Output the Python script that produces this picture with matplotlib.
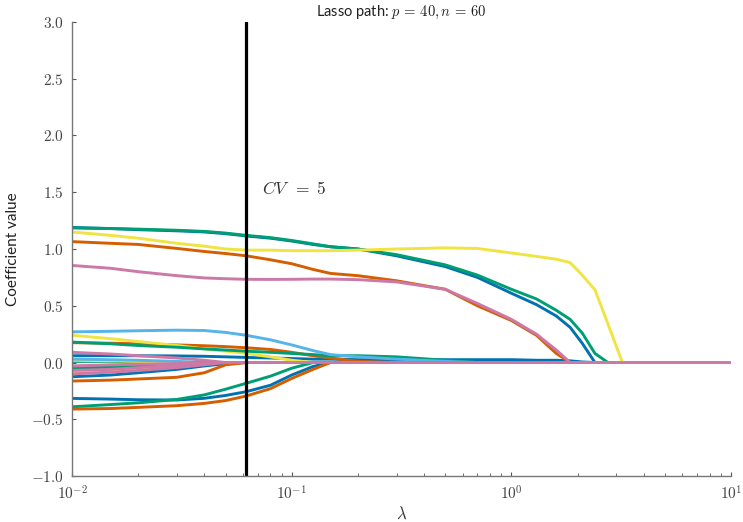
import math
import matplotlib
matplotlib.use("Agg")
import matplotlib.pyplot as plt
from matplotlib.ticker import FuncFormatter, LogLocator, FixedLocator

plt.rcParams['mathtext.fontset'] = 'cm'
plt.rcParams['font.family'] = ['Lato', 'DejaVu Sans']

# lambda grid shared by all coefficient paths
lambdas = [0.01, 0.015, 0.02, 0.03, 0.04, 0.05, 0.062, 0.08, 0.1, 0.125, 0.15, 0.2,
           0.3, 0.5, 0.7, 1.0, 1.3, 1.6, 1.85, 2.1, 2.4, 2.75, 3.2, 10.0]

cv_lambda = 0.062
cv_label = r'$CV\ \,=\ 5$'

# large coefficients
blue_big = [1.19, 1.18, 1.17, 1.16, 1.15, 1.135, 1.115, 1.095, 1.07, 1.04, 1.02, 1.0,
            0.94, 0.845, 0.75, 0.61, 0.51, 0.41, 0.31, 0.17, 0.0, 0.0, 0.0, 0.0]
green_big = [1.185, 1.18, 1.175, 1.165, 1.155, 1.14, 1.12, 1.10, 1.075, 1.045, 1.02, 1.0,
             0.95, 0.86, 0.77, 0.645, 0.56, 0.46, 0.38, 0.26, 0.08, 0.0, 0.0, 0.0]
orange_big = [1.065, 1.05, 1.04, 1.005, 0.978, 0.96, 0.94, 0.905, 0.87, 0.82, 0.785, 0.765,
              0.72, 0.645, 0.50, 0.37, 0.24, 0.08, 0.0, 0.0, 0.0, 0.0, 0.0, 0.0]
pink_big = [0.855, 0.83, 0.80, 0.765, 0.745, 0.738, 0.733, 0.732, 0.733, 0.735, 0.735, 0.73,
            0.71, 0.645, 0.52, 0.38, 0.25, 0.11, 0.0, 0.0, 0.0, 0.0, 0.0, 0.0]
yellow_big = [1.15, 1.12, 1.095, 1.05, 1.025, 1.0, 0.99, 0.99, 0.985, 0.985, 0.985, 0.99,
              1.0, 1.01, 1.005, 0.965, 0.935, 0.91, 0.88, 0.77, 0.64, 0.34, 0.0, 0.0]

# small coefficients (positive)
lightblue_s1 = [0.27, 0.275, 0.28, 0.285, 0.282, 0.265, 0.24, 0.20, 0.155, 0.105, 0.07, 0.05,
                0.03, 0.01, 0.0, 0.0, 0.0, 0.0, 0.0, 0.0, 0.0, 0.0, 0.0, 0.0]
yellow_s1 = [0.24, 0.21, 0.185, 0.15, 0.12, 0.10, 0.08, 0.05, 0.02, 0.0, 0.0, 0.0,
             0.0, 0.0, 0.0, 0.0, 0.0, 0.0, 0.0, 0.0, 0.0, 0.0, 0.0, 0.0]
orange_s1 = [0.175, 0.17, 0.165, 0.155, 0.148, 0.14, 0.13, 0.115, 0.09, 0.06, 0.04, 0.01,
             0.0, 0.0, 0.0, 0.0, 0.0, 0.0, 0.0, 0.0, 0.0, 0.0, 0.0, 0.0]
green_s1 = [0.18, 0.165, 0.15, 0.135, 0.12, 0.11, 0.10, 0.09, 0.08, 0.07, 0.06, 0.06,
            0.05, 0.02, 0.0, 0.0, 0.0, 0.0, 0.0, 0.0, 0.0, 0.0, 0.0, 0.0]
pink_s1 = [0.09, 0.075, 0.06, 0.04, 0.02, 0.0, 0.0, 0.0, 0.0, 0.0, 0.0, 0.0,
           0.0, 0.0, 0.0, 0.0, 0.0, 0.0, 0.0, 0.0, 0.0, 0.0, 0.0, 0.0]
blue_s1 = [0.06, 0.06, 0.06, 0.058, 0.055, 0.05, 0.045, 0.04, 0.035, 0.03, 0.03, 0.025,
           0.025, 0.025, 0.025, 0.025, 0.02, 0.02, 0.015, 0.005, 0.0, 0.0, 0.0, 0.0]
blue_s2 = [0.04, 0.04, 0.035, 0.03, 0.025, 0.02, 0.01, 0.0, 0.0, 0.0, 0.0, 0.0,
           0.0, 0.0, 0.0, 0.0, 0.0, 0.0, 0.0, 0.0, 0.0, 0.0, 0.0, 0.0]
green_s2 = [0.01, 0.01, 0.005, 0.0, 0.0, 0.0, 0.0, 0.0, 0.0, 0.0, 0.0, 0.0,
            0.0, 0.0, 0.0, 0.0, 0.0, 0.0, 0.0, 0.0, 0.0, 0.0, 0.0, 0.0]
yellow_s2 = [0.02, 0.015, 0.01, 0.005, 0.0, 0.0, 0.0, 0.0, 0.0, 0.0, 0.0, 0.0,
             0.0, 0.0, 0.0, 0.0, 0.0, 0.0, 0.0, 0.0, 0.0, 0.0, 0.0, 0.0]
lightblue_s2 = [0.03, 0.025, 0.02, 0.01, 0.0, 0.0, 0.0, 0.0, 0.0, 0.0, 0.0, 0.0,
                0.0, 0.0, 0.0, 0.0, 0.0, 0.0, 0.0, 0.0, 0.0, 0.0, 0.0, 0.0]

# small coefficients (negative)
pink_n2 = [-0.07, -0.06, -0.045, -0.025, -0.01, 0.0, 0.0, 0.0, 0.0, 0.0, 0.0, 0.0,
           0.0, 0.0, 0.0, 0.0, 0.0, 0.0, 0.0, 0.0, 0.0, 0.0, 0.0, 0.0]
pink_n3 = [-0.10, -0.085, -0.07, -0.045, -0.02, 0.0, 0.0, 0.0, 0.0, 0.0, 0.0, 0.0,
           0.0, 0.0, 0.0, 0.0, 0.0, 0.0, 0.0, 0.0, 0.0, 0.0, 0.0, 0.0]
yellow_n1 = [-0.095, -0.08, -0.065, -0.04, -0.02, 0.0, 0.0, 0.0, 0.0, 0.0, 0.0, 0.0,
             0.0, 0.0, 0.0, 0.0, 0.0, 0.0, 0.0, 0.0, 0.0, 0.0, 0.0, 0.0]
green_n2 = [-0.05, -0.04, -0.03, -0.015, 0.0, 0.0, 0.0, 0.0, 0.0, 0.0, 0.0, 0.0,
            0.0, 0.0, 0.0, 0.0, 0.0, 0.0, 0.0, 0.0, 0.0, 0.0, 0.0, 0.0]
blue_n2 = [-0.06, -0.05, -0.04, -0.02, -0.01, 0.0, 0.0, 0.0, 0.0, 0.0, 0.0, 0.0,
           0.0, 0.0, 0.0, 0.0, 0.0, 0.0, 0.0, 0.0, 0.0, 0.0, 0.0, 0.0]
blue_n1 = [-0.125, -0.11, -0.09, -0.06, -0.03, -0.01, 0.0, 0.0, 0.0, 0.0, 0.0, 0.0,
           0.0, 0.0, 0.0, 0.0, 0.0, 0.0, 0.0, 0.0, 0.0, 0.0, 0.0, 0.0]
orange_n1 = [-0.163, -0.155, -0.145, -0.13, -0.09, -0.02, 0.0, 0.0, 0.0, 0.0, 0.0, 0.0,
             0.0, 0.0, 0.0, 0.0, 0.0, 0.0, 0.0, 0.0, 0.0, 0.0, 0.0, 0.0]
blue_n_big = [-0.316, -0.322, -0.328, -0.33, -0.315, -0.29, -0.257, -0.20, -0.11, -0.035, 0.0, 0.0,
              0.0, 0.0, 0.0, 0.0, 0.0, 0.0, 0.0, 0.0, 0.0, 0.0, 0.0, 0.0]
green_n_big = [-0.39, -0.37, -0.355, -0.325, -0.285, -0.235, -0.183, -0.12, -0.05, 0.0, 0.0, 0.0,
               0.0, 0.0, 0.0, 0.0, 0.0, 0.0, 0.0, 0.0, 0.0, 0.0, 0.0, 0.0]
orange_n_big = [-0.41, -0.405, -0.395, -0.38, -0.36, -0.335, -0.295, -0.23, -0.14, -0.06, 0.0, 0.0,
                0.0, 0.0, 0.0, 0.0, 0.0, 0.0, 0.0, 0.0, 0.0, 0.0, 0.0, 0.0]
pink_n1 = [-0.03, -0.02, -0.015, -0.01, 0.0, 0.0, 0.0, 0.0, 0.0, 0.0, 0.0, 0.0,
           0.0, 0.0, 0.0, 0.0, 0.0, 0.0, 0.0, 0.0, 0.0, 0.0, 0.0, 0.0]

blue = '#0072B2'
green = '#009E73'
orange = '#D55E00'
pink = '#CC79A7'
yellow = '#F0E442'
lightblue = '#56B4E9'

# drawing order matters: pink zero line ends up on top
paths = [
    (blue_s1, blue), (green_s2, green), (orange_s1, orange), (pink_s1, pink),
    (yellow_s2, yellow), (lightblue_s2, lightblue),
    (blue_n2, blue), (green_n2, green), (yellow_n1, yellow), (pink_n2, pink),
    (blue_n1, blue), (orange_n1, orange), (pink_n3, pink),
    (yellow_s1, yellow), (green_s1, green), (lightblue_s1, lightblue),
    (blue_n_big, blue), (green_n_big, green), (orange_n_big, orange),
    (blue_big, blue), (green_big, green), (orange_big, orange), (pink_big, pink),
    (yellow_big, yellow),
    (pink_n1, pink),
]

fig = plt.figure(figsize=(7.43, 5.22), dpi=100)
ax = fig.add_axes([0.097, 0.088, 0.887, 0.870])

for values, color in paths:
    ax.plot(lambdas, values, color=color, lw=2.1, solid_capstyle='round')

ax.axvline(cv_lambda, color='black', lw=2.3)
ax.text(0.073, 1.53, cv_label, fontsize=12.5, va='center', ha='left', color='#333333')

ax.set_xscale('log')
ax.set_xlim(0.01, 10)
ax.set_ylim(-1.0, 3.0)
ax.yaxis.set_major_locator(FixedLocator([-1.0, -0.5, 0.0, 0.5, 1.0, 1.5, 2.0, 2.5, 3.0]))
ax.yaxis.set_major_formatter(FuncFormatter(lambda v, p: r'$%.1f$' % v))
ax.xaxis.set_major_locator(LogLocator(base=10))
ax.xaxis.set_major_formatter(FuncFormatter(lambda v, p: r'$10^{%d}$' % round(math.log10(v))))

for side in ['top', 'right']:
    ax.spines[side].set_visible(False)
for side in ['left', 'bottom']:
    ax.spines[side].set_color('#777777')
    ax.spines[side].set_linewidth(1.0)

ax.tick_params(which='both', direction='in', color='#555555', labelcolor='#444444',
               labelsize=11, pad=6)
ax.tick_params(which='major', length=3)
ax.tick_params(which='minor', length=2)

ax.set_title(r'Lasso path: $p\,=\,40, n\,=\,60$', fontsize=10.5, color='#222222', pad=4)
ax.set_ylabel('Coefficient value', fontsize=11, color='#222222', labelpad=8)
ax.set_xlabel(r'$\lambda$', fontsize=12, color='#333333', labelpad=2)

fig.savefig('out.png', dpi=100)
